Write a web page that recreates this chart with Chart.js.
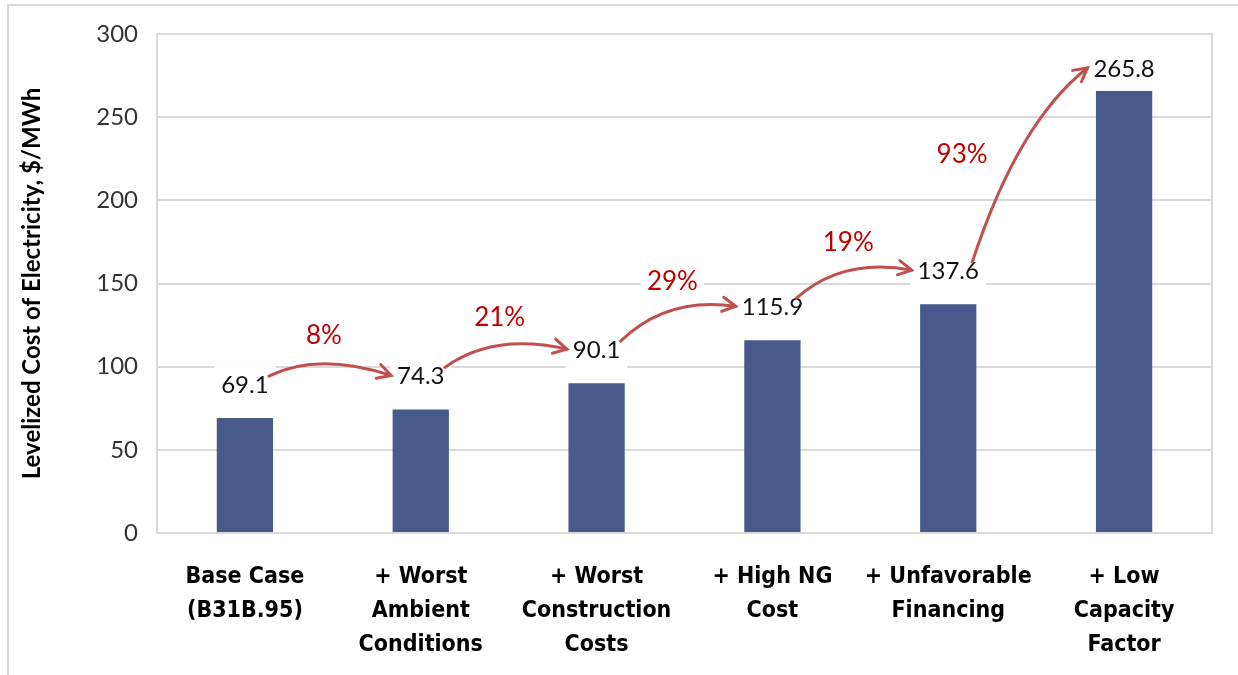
<!DOCTYPE html>
<html>
<head>
<meta charset="utf-8">
<script src="https://cdn.jsdelivr.net/npm/chart.js@4.4.1/dist/chart.umd.min.js"></script>
<style>
  html, body { margin: 0; padding: 0; background: #fff; }
  #frame { position: absolute; left: 7px; top: 4px; width: 1240px; height: 680px;
           border-left: 2px solid #d9d9d9; border-top: 2px solid #d9d9d9; }
  #chart { position: absolute; left: 0; top: 0; }
</style>
</head>
<body>
<div id="frame"></div>
<canvas id="chart" width="1238" height="675"></canvas>
<script>
// values
const categories = [
  ["Base Case", "(B31B.95)"],
  ["+ Worst", "Ambient", "Conditions"],
  ["+ Worst", "Construction", "Costs"],
  ["+ High NG", "Cost"],
  ["+ Unfavorable", "Financing"],
  ["+ Low", "Capacity", "Factor"]
];
const lcoe = [69.1, 74.3, 90.1, 115.9, 137.6, 265.8];
const stepIncrease = ["8%", "21%", "29%", "19%", "93%"];
const yTicks = [0, 50, 100, 150, 200, 250, 300];

const numFont = "Lato, 'Open Sans', sans-serif";
const catFont = "'Liberation Sans Narrow', 'DejaVu Sans Condensed', sans-serif";

// plot area box, value labels, and the red step arrows
const annotate = {
  id: 'annotate',
  beforeDatasetsDraw(chart) {
    const a = chart.chartArea, ctx = chart.ctx;
    ctx.save();
    ctx.strokeStyle = '#d9d9d9';
    ctx.lineWidth = 2;
    ctx.strokeRect(a.left, a.top, a.right - a.left, a.bottom - a.top);
    ctx.restore();
  },
  afterDatasetsDraw(chart) {
    const ctx = chart.ctx;
    const area = chart.chartArea;
    const meta = chart.getDatasetMeta(0);
    ctx.save();
    ctx.font = '24px ' + numFont;
    ctx.textAlign = 'center';
    ctx.textBaseline = 'middle';

    const labels = meta.data.map((bar, i) => {
      const text = lcoe[i].toFixed(1);
      const y = Math.max(bar.y - 34, area.top + 34);
      return { x: bar.x, y, w: ctx.measureText(text).width, text };
    });
    labels.forEach(l => {
      ctx.fillStyle = '#fff';
      ctx.fillRect(l.x - l.w / 2 - 7, l.y - 18, l.w + 14, 37);
      ctx.fillStyle = '#111';
      ctx.fillText(l.text, l.x, l.y + 1);
    });

    ctx.font = '26px ' + numFont;
    for (let i = 0; i < labels.length - 1; i++) {
      const from = labels[i], to = labels[i + 1];
      const sx = from.x + 24, sy = from.y - 8;
      const ex = to.x - to.w / 2 - 6, ey = to.y;
      const dx = ex - sx, dy = ey - sy;
      const cx = sx + 0.4 * dx, cy = sy + 0.6 * dy - 24;

      ctx.strokeStyle = '#c0504d';
      ctx.lineWidth = 3;
      ctx.lineCap = 'round';
      ctx.beginPath();
      ctx.moveTo(sx, sy);
      ctx.quadraticCurveTo(cx, cy, ex, ey);
      ctx.stroke();

      // open arrow head along the end tangent
      const ang = Math.atan2(ey - cy, ex - cx);
      const hl = 15;
      ctx.beginPath();
      ctx.moveTo(ex - hl * Math.cos(ang - 0.5), ey - hl * Math.sin(ang - 0.5));
      ctx.lineTo(ex, ey);
      ctx.lineTo(ex - hl * Math.cos(ang + 0.5), ey - hl * Math.sin(ang + 0.5));
      ctx.stroke();

      // percentage label
      const mx = 0.25 * sx + 0.5 * cx + 0.25 * ex;
      const my = 0.25 * sy + 0.5 * cy + 0.25 * ey;
      let px, py;
      if (Math.abs(dy) > Math.abs(dx)) {
        px = mx - 62; py = my + 10;
      } else {
        px = mx; py = my - 29;
      }
      const pw = ctx.measureText(stepIncrease[i]).width;
      ctx.fillStyle = '#fff';
      ctx.fillRect(px - pw / 2 - 6, py - 17, pw + 12, 34);
      ctx.fillStyle = '#c00000';
      ctx.fillText(stepIncrease[i], px, py + 1);
    }
    ctx.restore();
  }
};

new Chart(document.getElementById('chart'), {
  type: 'bar',
  data: {
    labels: categories,
    datasets: [{
      data: lcoe,
      backgroundColor: '#485a8c',
      barPercentage: 0.32,
      categoryPercentage: 1.0
    }]
  },
  options: {
    responsive: false,
    animation: false,
    devicePixelRatio: 1,
    layout: { padding: { left: 18, top: 34, right: 26, bottom: 10 } },
    plugins: { legend: { display: false }, tooltip: { enabled: false } },
    scales: {
      x: {
        grid: { display: false },
        border: { display: false },
        ticks: {
          color: '#000',
          font: { family: catFont, size: 23, weight: 'bold', lineHeight: 1.48 },
          padding: 19,
          maxRotation: 0,
          autoSkip: false
        },
        afterFit(s) { s.height = 132; }
      },
      y: {
        min: 0,
        max: 300,
        afterBuildTicks(s) { s.ticks = yTicks.map(v => ({ value: v })); },
        grid: { color: '#d9d9d9', lineWidth: 2, drawTicks: false },
        border: { display: false },
        ticks: { color: '#333', font: { family: numFont, size: 24 }, padding: 19 },
        title: {
          display: true,
          text: 'Levelized Cost of Electricity, $/MWh',
          color: '#000',
          font: { family: numFont, size: 24, weight: 'bold' },
          padding: 0
        },
        afterFit(s) { s.width = 139; }
      }
    }
  },
  plugins: [annotate]
});
</script>
</body>
</html>
